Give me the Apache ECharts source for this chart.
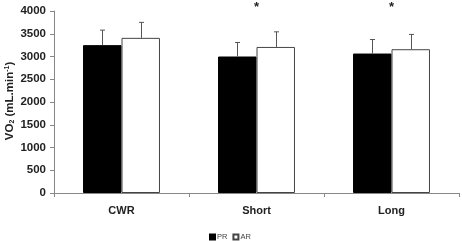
<!DOCTYPE html>
<html>
<head>
<meta charset="UTF-8">
<script src="https://cdn.jsdelivr.net/npm/echarts@6/dist/echarts.min.js"></script>
<style>
  html, body { margin: 0; padding: 0; background: #fff; }
  #chart { width: 462px; height: 241px; }
</style>
</head>
<body>
<div id="chart"></div>
<script>
// data
const categories = ['CWR', 'Short', 'Long'];
const prMean = [3250, 3000, 3065];
const arMean = [3410, 3210, 3160];
const prErr = [330, 308, 308];
const arErr = [340, 332, 325];
const sigMarks = ['', '*', '*'];
const yTicks = [0, 500, 1000, 1500, 2000, 2500, 3000, 3500, 4000];

const BAR_FRAC = 0.285;

function errorSeries(name, means, errs, side) {
  return {
    name: name + ' err',
    type: 'custom',
    silent: true,
    z: 5,
    data: means.map((m, i) => [i, m, m + errs[i]]),
    renderItem: function (params, api) {
      const band = api.size([1, 0])[0];
      const dx = side * band * BAR_FRAC / 2;
      const lo = api.coord([api.value(0), api.value(1)]);
      const hi = api.coord([api.value(0), api.value(2)]);
      const x = Math.round(lo[0] + dx) + 0.5;
      const style = { stroke: '#555', lineWidth: 1 };
      return {
        type: 'group',
        children: [
          { type: 'line', shape: { x1: x, y1: lo[1], x2: x, y2: hi[1] }, style: style },
          { type: 'line', shape: { x1: x - 2.5, y1: hi[1], x2: x + 2.5, y2: hi[1] }, style: style }
        ]
      };
    }
  };
}

const bold = { fontFamily: 'Liberation Sans', fontWeight: 'bold', color: '#222' };

const chart = echarts.init(document.getElementById('chart'));
chart.setOption({
  animation: false,
  grid: { left: 54, right: 3, top: 11, bottom: 48, containLabel: false, outerBoundsMode: 'none' },
  graphic: [{
    type: 'text',
    x: 10,
    y: 101,
    rotation: Math.PI / 2,
    style: {
      text: 'VO{sub|2} (mL.min{sup|-1})',
      align: 'center',
      verticalAlign: 'middle',
      font: 'bold 11.5px "Liberation Sans"',
      fill: '#222',
      rich: {
        sub: { font: 'bold 7px "Liberation Sans"', fill: '#222', verticalAlign: 'bottom', padding: [5, 0, 0, 0] },
        sup: { font: 'bold 7px "Liberation Sans"', fill: '#222', verticalAlign: 'top', padding: [0, 0, 5, 0] }
      }
    }
  }],
  legend: {
    top: 228,
    left: 204,
    padding: 5,
    itemWidth: 5,
    itemHeight: 5,
    itemGap: 5,
    icon: 'rect',
    textStyle: { fontFamily: 'Liberation Sans', fontSize: 7.5, color: '#444', padding: [0, 0, 0, -3] },
    data: ['PR', 'AR']
  },
  xAxis: {
    type: 'category',
    data: categories,
    axisLine: { lineStyle: { color: '#888', width: 1 } },
    axisTick: { show: true, alignWithLabel: false, length: 4, lineStyle: { color: '#888' } },
    axisLabel: Object.assign({ margin: 12, fontSize: 11 }, bold)
  },
  yAxis: {
    type: 'value',
    min: 0,
    max: 4000,
    interval: 500,
    splitLine: { show: false },
    axisLine: { show: true, lineStyle: { color: '#888', width: 1 } },
    axisTick: { show: true, length: 4, lineStyle: { color: '#888' } },
    axisLabel: Object.assign({
      margin: 8,
      fontSize: 11.5,
      formatter: v => yTicks.includes(v) ? String(v) : ''
    }, bold)
  },
  series: [
    {
      name: 'PR',
      type: 'bar',
      data: prMean,
      barWidth: (BAR_FRAC * 100) + '%',
      barGap: '0%',
      itemStyle: { color: '#000', borderColor: '#000', borderWidth: 1 }
    },
    {
      name: 'AR',
      type: 'bar',
      data: arMean,
      barWidth: (BAR_FRAC * 100) + '%',
      barGap: '0%',
      itemStyle: { color: '#fff', borderColor: '#444', borderWidth: 1 }
    },
    errorSeries('PR', prMean, prErr, -1),
    errorSeries('AR', arMean, arErr, 1),
    {
      name: 'sig',
      type: 'custom',
      silent: true,
      data: sigMarks.map((s, i) => [i, 4000]),
      renderItem: function (params, api) {
        const p = api.coord([api.value(0), api.value(1)]);
        return {
          type: 'text',
          style: {
            text: sigMarks[params.dataIndex],
            x: p[0], y: p[1] + 3,
            align: 'center', verticalAlign: 'bottom',
            font: 'bold 13px "Liberation Sans"', fill: '#222'
          }
        };
      }
    }
  ]
});
</script>
</body>
</html>
